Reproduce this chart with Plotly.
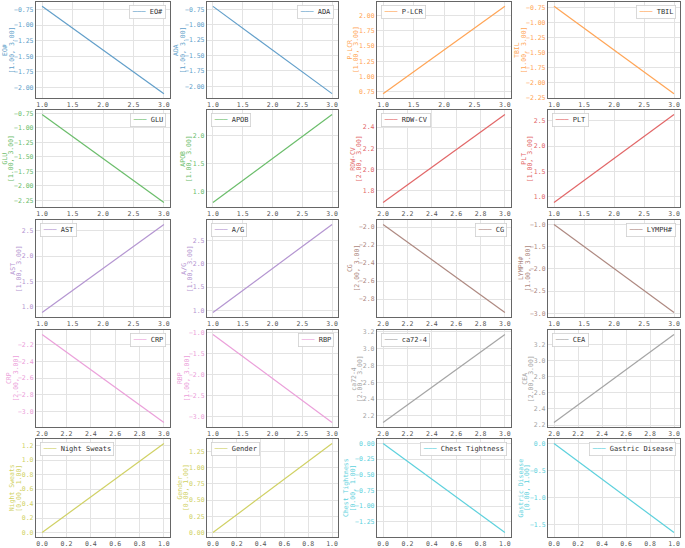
import math
import plotly.graph_objects as go

names = ["EO#", "ADA", "P-LCR", "TBIL", "GLU", "APOB", "RDW-CV", "PLT",
         "AST", "A/G", "CG", "LYMPH#", "CRP", "RBP", "ca72-4", "CEA",
         "Night Sweats", "Gender", "Chest Tightness", "Gastric Disease"]
x_start = [1, 1, 1, 1, 1, 1, 2, 1, 1, 1, 2, 1, 2, 1, 2, 2, 0, 0, 0, 0]
x_end = [3, 3, 3, 3, 3, 3, 3, 3, 3, 3, 3, 3, 3, 3, 3, 3, 1, 1, 1, 1]
y_start = [-0.70, -0.70, 0.72, -0.73, -0.77, 0.80, 1.69, 0.88, 0.88, 0.95,
           -1.97, -1.00, -2.08, -1.05, 2.12, 2.23, 0.00, 0.00, 0.00, 0.00]
y_end = [-2.10, -2.12, 2.15, -2.18, -2.29, 2.38, 2.52, 2.63, 2.63, 2.85,
         -2.95, -2.98, -3.13, -3.15, 3.17, 3.33, 1.23, 1.37, -1.42, -1.65]
y_dtick = [0.25, 0.25, 0.25, 0.25, 0.25, 0.5, 0.2, 0.5, 0.5, 0.5,
           0.2, 0.5, 0.2, 0.5, 0.2, 0.2, 0.2, 0.25, 0.25, 0.5]
colors = ["#629fca", "#629fca", "#ffa556", "#ffa556", "#6bbd6b", "#6bbd6b",
          "#e26768", "#e26768", "#b495d1", "#b495d1", "#ae8981", "#ae8981",
          "#eba0da", "#eba0da", "#a5a5a5", "#a5a5a5", "#d0d164", "#d0d164",
          "#5dd1dd", "#5dd1dd"]

W, H = 685, 548
col_px = [(36, 170), (207, 338), (377, 511), (548, 680)]
row_px = [(2, 98), (110, 207), (220, 317), (330, 427), (439, 537)]
FONT = "DejaVu Sans Mono"
FS = 6.5

fig = go.Figure()
layout = {}
annotations = []
for i, nm in enumerate(names):
    k = i + 1
    r, c = divmod(i, 4)
    x0, x1 = col_px[c]
    t, b = row_px[r]
    xd = [x0 / W, x1 / W]
    yd = [1 - b / H, 1 - t / H]
    xs = [x_start[i], x_end[i]]
    ys = [y_start[i], y_end[i]]
    sfx = "" if k == 1 else str(k)
    fig.add_trace(go.Scatter(x=xs, y=ys, mode="lines", name=nm, showlegend=False,
                             line=dict(color=colors[i], width=1.2),
                             xaxis="x" + sfx, yaxis="y" + sfx))
    xspan = xs[1] - xs[0]
    ylo, yhi = min(ys), max(ys)
    yspan = yhi - ylo
    yr = [ylo - 0.05 * yspan, yhi + 0.05 * yspan]
    xdt = 0.5 if xspan == 2 else 0.2
    ydt = y_dtick[i]
    yfmt = ".2f" if ydt == 0.25 else ".1f"
    # longest y tick label, to place the axis title
    n0 = math.ceil(yr[0] / ydt - 1e-9)
    n1 = math.floor(yr[1] / ydt + 1e-9)
    maxlen = max(len(format(n * ydt, yfmt)) for n in range(n0, n1 + 1))
    layout["xaxis" + sfx] = dict(
        domain=xd, anchor="y" + sfx, range=[xs[0] - 0.05 * xspan, xs[1] + 0.05 * xspan],
        dtick=xdt, tick0=0, tickformat=".1f", showline=True, mirror=True, automargin=False,
        linecolor="#666666", linewidth=1.3, showgrid=True, gridcolor="#e3e3e3",
        gridwidth=0.8, zeroline=False, ticks="",
        tickfont=dict(size=FS, color="#555555", family=FONT))
    layout["yaxis" + sfx] = dict(
        domain=yd, anchor="x" + sfx, range=yr,
        dtick=ydt, tick0=0, tickformat=yfmt, showline=True, mirror=True, automargin=False,
        linecolor="#666666", linewidth=1.3, showgrid=True, gridcolor="#e3e3e3",
        gridwidth=0.8, zeroline=False, ticks="",
        tickfont=dict(size=FS, color=colors[i], family=FONT))
    # y axis title (two lines), rotated
    off = 9.5 + 3.6 * maxlen
    for txt, dx in ((nm, -3.5), (f"[{xs[0]:.2f}, {xs[1]:.2f}]", 3.0)):
        annotations.append(dict(
            text=txt, textangle=-90,
            x=(x0 - off + dx) / W, y=(yd[0] + yd[1]) / 2, xref="paper", yref="paper",
            xanchor="center", yanchor="middle", showarrow=False,
            font=dict(size=6.5, color=colors[i], family=FONT)))
    # legend box
    rising = ys[1] > ys[0]
    if rising:
        lx, xa = xd[0] + 4 / W, "left"
    else:
        lx, xa = xd[1] - 4 / W, "right"
    annotations.append(dict(
        text=f"<span style='color:{colors[i]}'>───</span> {nm}",
        x=lx, y=yd[1] - 3 / H, xref="paper", yref="paper",
        xanchor=xa, yanchor="top", showarrow=False,
        bgcolor="rgba(255,255,255,0.9)", bordercolor="#d0d0d0", borderwidth=0.8,
        borderpad=2, font=dict(size=7, color="#333333", family=FONT)))

fig.update_layout(**layout)
fig.update_layout(width=W, height=H, margin=dict(l=0, r=0, t=0, b=0, autoexpand=False),
                  plot_bgcolor="white", paper_bgcolor="white", showlegend=False,
                  annotations=annotations, font=dict(family=FONT, size=FS))
fig.write_html("out.html", config={"displayModeBar": False},
               post_script="document.body.style.margin='0px';")
